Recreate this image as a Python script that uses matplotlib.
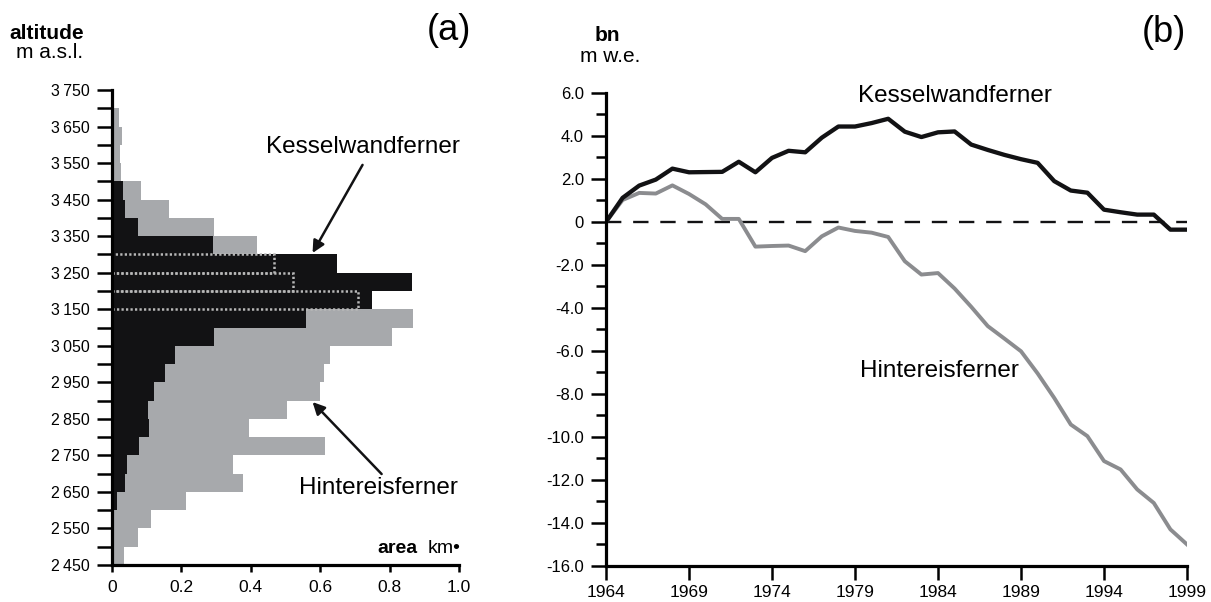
import matplotlib
matplotlib.use('Agg')
import matplotlib.pyplot as plt
from matplotlib.patches import Rectangle

plt.rcParams['font.family'] = ['Liberation Sans', 'DejaVu Sans']

# ---------------- data: panel (a) area-altitude distribution -------------
alt_bins = list(range(2450, 3750, 50))          # lower edge of 50 m bands
hef_area = [0.036, 0.074, 0.112, 0.214, 0.377, 0.348, 0.613, 0.396, 0.504,
            0.600, 0.610, 0.627, 0.808, 0.867, 0.709, 0.523, 0.466, 0.418,
            0.293, 0.163, 0.084, 0.025, 0.022, 0.030, 0.019, 0.0]
kwf_area = [0.0, 0.0, 0.003, 0.013, 0.038, 0.043, 0.077, 0.106, 0.105,
            0.122, 0.154, 0.182, 0.295, 0.560, 0.748, 0.865, 0.648, 0.292,
            0.075, 0.038, 0.032, 0.0, 0.0, 0.0, 0.0, 0.0]
alt_ticks = list(range(2450, 3751, 100))
alt_labels = ['%d\u2009%03d' % (t // 1000, t % 1000) for t in alt_ticks]
area_ticks = [0, 0.2, 0.4, 0.6, 0.8, 1.0]
area_labels = ['0', '0.2', '0.4', '0.6', '0.8', '1.0']

# ---------------- data: panel (b) cumulative mass balance ----------------
years = list(range(1964, 2000))
kwf_bn = [0.0, 1.12, 1.69, 1.97, 2.48, 2.31, 2.32, 2.33, 2.80, 2.31,
          2.98, 3.31, 3.24, 3.92, 4.44, 4.44, 4.60, 4.80, 4.20, 3.95,
          4.17, 4.21, 3.60, 3.35, 3.12, 2.92, 2.75, 1.90, 1.46, 1.36,
          0.57, 0.45, 0.34, 0.34, -0.36, -0.36]
hef_bn = [0.0, 1.02, 1.35, 1.32, 1.70, 1.30, 0.82, 0.14, 0.14, -1.15,
          -1.12, -1.10, -1.36, -0.67, -0.26, -0.42, -0.50, -0.70, -1.83, -2.45,
          -2.38, -3.10, -3.95, -4.85, -5.43, -6.02, -7.05, -8.19, -9.43, -9.97,
          -11.13, -11.52, -12.45, -13.08, -14.31, -15.01]
year_ticks = list(range(1964, 2000, 5))
bn_ticks = list(range(-16, 7, 2))
bn_labels = ['0' if v == 0 else '%.1f' % v for v in bn_ticks]

W, H = 1211, 602
fig = plt.figure(figsize=(W / 100, H / 100), dpi=100)

BLACK = '#121214'
GRAYBAR = '#a7a9ac'
GRAYLINE = '#8b8c8f'

# ---------------- panel (a) ----------------
axA = fig.add_axes([112 / W, 1 - 565 / H, 347 / W, 475 / H])
axA.barh(alt_bins, hef_area, height=50, align='edge', color=GRAYBAR, lw=0, zorder=1)
axA.barh(alt_bins, kwf_area, height=50, align='edge', color=BLACK, lw=0, zorder=2)
for b, h, k in zip(alt_bins, hef_area, kwf_area):
    if 0 < h < k:
        axA.add_patch(Rectangle((0, b), h, 50, fill=False, ec='#b8b8b8',
                                ls=(0, (0.9, 0.9)), lw=1.8, zorder=3))
axA.set_xlim(0, 1.0)
axA.set_ylim(2450, 3750)
for s in ('top', 'right'):
    axA.spines[s].set_visible(False)
for s in ('left', 'bottom'):
    axA.spines[s].set_linewidth(2.3)
    axA.spines[s].set_zorder(5)
axA.set_yticks(alt_ticks)
axA.set_yticklabels(alt_labels)
axA.set_yticks(list(range(2500, 3750, 100)), minor=True)
axA.tick_params(axis='y', which='both', direction='out', length=11, width=1.8,
                labelsize=11.5, pad=5)
axA.set_xticks(area_ticks)
axA.set_xticklabels(area_labels)
axA.tick_params(axis='x', which='both', direction='out', length=5, width=1.8,
                labelsize=12.5, pad=6)

axA.annotate('', xy=(0.578, 3304), xytext=(0.722, 3545),
             arrowprops=dict(arrowstyle='-|>', color=BLACK, lw=1.8,
                             mutation_scale=18, shrinkA=0, shrinkB=0))
axA.annotate('', xy=(0.578, 2896), xytext=(0.777, 2699),
             arrowprops=dict(arrowstyle='-|>', color=BLACK, lw=1.8,
                             mutation_scale=18, shrinkA=0, shrinkB=0))
axA.text(0.722, 3594, 'Kesselwandferner', ha='center', va='center', fontsize=17.5)
axA.text(0.769, 2661, 'Hintereisferner', ha='center', va='center', fontsize=17.5)

fig.text(418 / W, 1 - 553 / H, 'area', ha='right', va='baseline',
         fontsize=14, fontweight='bold')
fig.text(428 / W, 1 - 553 / H, 'km\u2022', ha='left', va='baseline', fontsize=14)
fig.text(47 / W, 1 - 39 / H, 'altitude', ha='center', va='baseline',
         fontsize=15, fontweight='bold')
fig.text(50 / W, 1 - 58 / H, 'm a.s.l.', ha='center', va='baseline', fontsize=15)
fig.text(449 / W, 1 - 40 / H, '(a)', ha='center', va='baseline', fontsize=26)

# ---------------- panel (b) ----------------
axB = fig.add_axes([606 / W, 1 - 565.7 / H, 581 / W, 472.7 / H])
axB.axhline(0, color=BLACK, lw=1.7, ls=(0, (6.5, 5.0)), zorder=1)
axB.plot(years, hef_bn, color=GRAYLINE, lw=2.8, zorder=2, solid_joinstyle='round')
axB.plot(years, kwf_bn, color=BLACK, lw=3.1, zorder=3, solid_joinstyle='round')
axB.set_xlim(1964, 1999)
axB.set_ylim(-16, 6)
for s in ('top', 'right'):
    axB.spines[s].set_visible(False)
for s in ('left', 'bottom'):
    axB.spines[s].set_linewidth(2.3)
    axB.spines[s].set_zorder(5)
axB.set_yticks(bn_ticks)
axB.set_yticklabels(bn_labels)
axB.set_yticks(list(range(-15, 6, 2)), minor=True)
axB.tick_params(axis='y', which='major', direction='out', length=11, width=1.8,
                labelsize=12, pad=5)
axB.tick_params(axis='y', which='minor', direction='out', length=7, width=1.8)
axB.set_xticks(year_ticks)
axB.tick_params(axis='x', which='major', direction='out', length=10, width=1.8,
                labelsize=12.5, pad=4)

axB.text(1985.0, 5.87, 'Kesselwandferner', ha='center', va='center', fontsize=17.5)
axB.text(1984.06, -6.92, 'Hintereisferner', ha='center', va='center', fontsize=17.5)

fig.text(607 / W, 1 - 41 / H, 'bn', ha='center', va='baseline',
         fontsize=15, fontweight='bold')
fig.text(610 / W, 1 - 62 / H, 'm w.e.', ha='center', va='baseline', fontsize=15)
fig.text(1164 / W, 1 - 42 / H, '(b)', ha='center', va='baseline', fontsize=26)

fig.savefig('out.png', dpi=100)
